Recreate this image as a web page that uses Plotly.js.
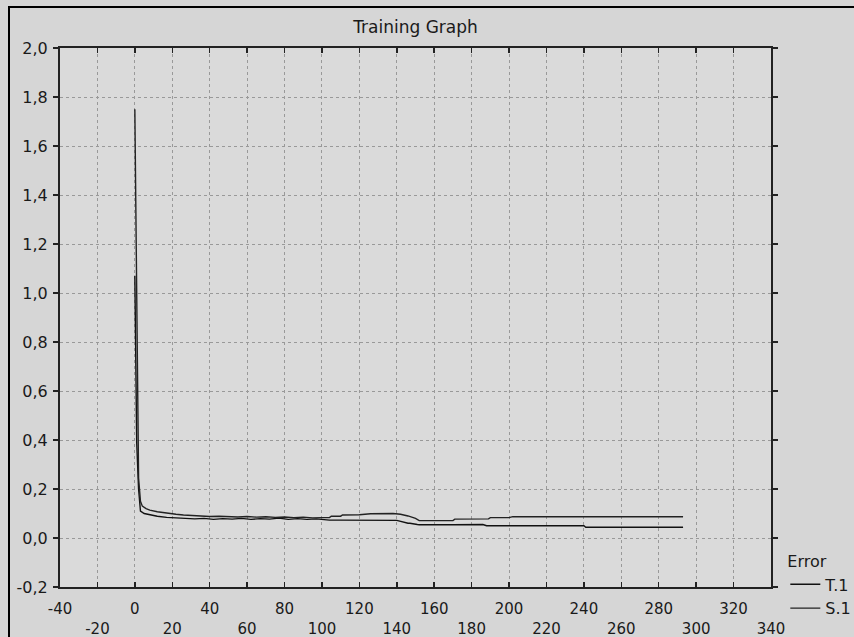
<!DOCTYPE html>
<html>
<head>
<meta charset="utf-8">
<script src="https://cdn.plot.ly/plotly-3.0.1.min.js"></script>
<style>
html,body{margin:0;padding:0;background:#d6d6d6;}
#chart{width:854px;height:637px;}
#frame{position:absolute;left:8px;top:6px;width:846px;height:631px;border-top:2.5px solid #000;border-left:2.5px solid #000;pointer-events:none;box-sizing:border-box;}
</style>
</head>
<body>
<div id="chart"></div>
<div id="frame"></div>
<script>
// Series S.1 (upper at the end)
const sEpochs = [0,1,2,3,4,6,8,12,17,22,26,30,35,40,45,50,55,60,65,70,75,80,85,90,95,100,104,105,110,111,120,126,130,134,138,142,145,146,150,152,160,170,171,180,183,189,190,200,202,220,240,260,280,293];
const sError  = [1.75,0.96,0.245,0.15,0.13,0.12,0.114,0.107,0.101,0.097,0.094,0.092,0.090,0.088,0.089,0.087,0.086,0.088,0.085,0.087,0.084,0.086,0.083,0.085,0.082,0.083,0.083,0.089,0.089,0.094,0.095,0.099,0.100,0.098,0.100,0.097,0.092,0.090,0.080,0.071,0.071,0.071,0.077,0.077,0.078,0.078,0.083,0.083,0.087,0.087,0.087,0.087,0.087,0.087];
// Series T.1 (lower at the end)
const tEpochs = [0,1,2,3,5,8,12,17,22,27,32,37,42,47,52,57,62,67,72,77,82,87,92,97,100,104,110,120,130,140,146,147,151,152,170,186,188,200,220,240,241,260,280,293];
const tError  = [1.07,0.39,0.20,0.11,0.10,0.095,0.089,0.084,0.081,0.080,0.078,0.080,0.076,0.079,0.077,0.080,0.076,0.079,0.077,0.081,0.076,0.079,0.076,0.078,0.075,0.073,0.073,0.073,0.073,0.072,0.060,0.060,0.055,0.054,0.054,0.055,0.050,0.050,0.050,0.050,0.044,0.044,0.044,0.044];

const xTicks = [-40,-20,0,20,40,60,80,100,120,140,160,180,200,220,240,260,280,300,320,340];
const xTickLabels = ["-40","-20","0","20","40","60","80","100","120","140","160","180","200","220","240","260","280","300","320","340"];
const yTicks = [-0.2,0,0.2,0.4,0.6,0.8,1.0,1.2,1.4,1.6,1.8,2.0];
const yTickLabels = ["-0,2","0,0","0,2","0,4","0,6","0,8","1,0","1,2","1,4","1,6","1,8","2,0"];

const FONT = "DejaVu Sans";

const traces = [
  {x: tEpochs, y: tError, name: "T.1", type: "scatter", mode: "lines",
   line: {color: "#111", width: 1.4}},
  {x: sEpochs, y: sError, name: "S.1", type: "scatter", mode: "lines",
   line: {color: "#222", width: 1.4}}
];

const layout = {
  width: 854, height: 637,
  paper_bgcolor: "#d6d6d6",
  plot_bgcolor: "#dadada",
  margin: {l: 60, r: 83, t: 48, b: 50, autoexpand: false},
  font: {family: FONT, size: 16, color: "#1a1a1a"},
  title: {text: "Training Graph", font: {family: FONT, size: 17, color: "#1a1a1a"},
          x: 0.5, xref: "paper", xanchor: "center", y: 1 - 27/637, yref: "container", yanchor: "middle"},
  showlegend: true,
  legend: {x: 1.12, xanchor: "right", y: 0.075, yanchor: "top", bgcolor: "rgba(0,0,0,0)",
           title: {text: "Error", side: "top", font: {size: 16}},
           font: {size: 16}, itemwidth: 30, tracegroupgap: 0},
  xaxis: {range: [-40, 340], tickmode: "array", tickvals: xTicks,
          ticktext: xTickLabels.map((t, i) => i % 2 === 1 ? "<br>" + t : t),
          tickfont: {size: 15},
          ticks: "inside", ticklen: 5, tickcolor: "#222", tickwidth: 1.5,
          showline: true, linecolor: "#222", linewidth: 2, mirror: "ticks",
          showgrid: true, gridcolor: "#999", griddash: "dot", gridwidth: 1,
          zeroline: false, ticklabelstandoff: 7, tickangle: 0},
  yaxis: {range: [-0.2, 2.0], tickmode: "array", tickvals: yTicks, ticktext: yTickLabels,
          ticks: "outside", ticklen: 5, tickcolor: "#222", tickwidth: 1.5,
          showline: true, linecolor: "#222", linewidth: 2, mirror: "ticks",
          showgrid: true, gridcolor: "#999", griddash: "dot", gridwidth: 1,
          zeroline: false, ticklabelstandoff: 2}
};

Plotly.newPlot("chart", traces, layout, {displayModeBar: false, staticPlot: true});
</script>
</body>
</html>
